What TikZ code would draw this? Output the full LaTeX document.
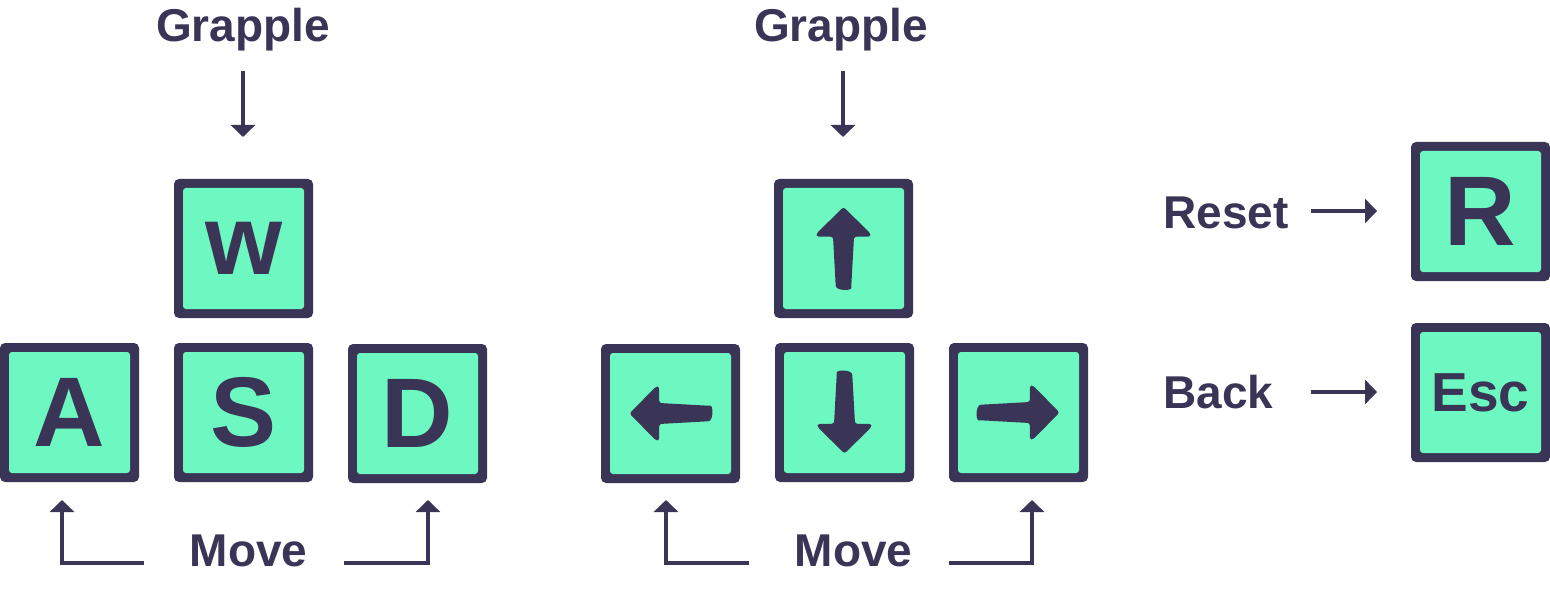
\documentclass[tikz,border=0pt]{standalone}
\usepackage{fontspec}
\setmainfont{Liberation Sans}
\usetikzlibrary{arrows.meta}
\definecolor{ink}{HTML}{3A3456}
\definecolor{mint}{HTML}{6DF8C1}
\begin{document}
\begin{tikzpicture}[x=0.5pt,y=-0.5pt,
 keybox/.style={fill=ink, rounded corners=2.5pt, minimum size=69.5pt, inner sep=0pt, text=ink,
   font=\bfseries\fontsize{49.5}{50}\selectfont,
   path picture={\fill[mint, rounded corners=1.5pt] ([shift={(4.5pt,4.5pt)}]path picture bounding box.south west) rectangle ([shift={(-4.5pt,-4.5pt)}]path picture bounding box.north east);}},
 lbl/.style={text=ink, font=\bfseries\fontsize{23}{24}\selectfont, inner sep=0pt, anchor=base},
 conn/.style={draw=ink, line width=2.2pt, -{Triangle[width=12pt,length=6pt]}},
 keyarrow/.pic={\fill[ink, rounded corners=1.2pt] (0,-41.5) -- (26.8,-15.2) -- (26.8,-11.8) -- (10.5,-11.8) -- (7.8,37) [sharp corners] .. controls (7.8,42.5) and (-7.8,42.5) .. (-7.8,37) [rounded corners=1.2pt] -- (-10.5,-11.8) -- (-26.8,-11.8) -- (-26.8,-15.2) -- cycle;}
]
\useasboundingbox (0,0) rectangle (1550,604);

% WASD keys
\node[keybox] (kw) at (243.5,248.5) {w};
\node[keybox] (ka) at (69.5,412.5) {A};
\node[keybox] (ks) at (243.5,412.5) {S};
\node[keybox] (kd) at (417.5,413.5) {D};

% arrow keys
\node[keybox] (kup) at (843.5,248.5) {};
\node[keybox] (kleft) at (670.5,413.5) {};
\node[keybox] (kdown) at (844.5,412.5) {};
\node[keybox] (kright) at (1018.5,412.5) {};
\pic at (843.5,248.5) {keyarrow};
\pic[rotate=180] at (844.5,412) {keyarrow};
\pic[rotate=90] at (671,413.5) {keyarrow};
\pic[rotate=-90] at (1018,412.5) {keyarrow};

% R and Esc
\node[keybox] (kr) at (1480.5,211.5) {R};
\node[keybox, font=\bfseries\fontsize{27.5}{28}\selectfont] (kesc) at (1480.5,392.5) {Esc};

% labels
\node[lbl] (grap1) at (243,42) {Grapple};
\node[lbl] (grap2) at (841,42) {Grapple};
\node[lbl] (move1) at (248.5,566) {Move};
\node[lbl] (move2) at (853.5,566) {Move};
\node[lbl, anchor=base west] (reset) at (1163,228) {Reset};
\node[lbl, anchor=base west] (back) at (1163,408) {Back};

% connector ends
\coordinate (g1a) at (243,71);   \coordinate (g1b) at (243,137);
\coordinate (g2a) at (843,71);   \coordinate (g2b) at (843,137);
\coordinate (m1l) at (144,563);  \coordinate (m1lt) at (62,500);
\coordinate (m1r) at (344,563);  \coordinate (m1rt) at (428,500);
\coordinate (m2l) at (749,563);  \coordinate (m2lt) at (666,500);
\coordinate (m2r) at (949,563);  \coordinate (m2rt) at (1032,500);
\coordinate (ra) at (1311,211);  \coordinate (rb) at (1377,211);
\coordinate (ba) at (1311,392);  \coordinate (bb) at (1377,392);

\draw[conn] (g1a) -- (g1b);
\draw[conn] (g2a) -- (g2b);
\draw[conn] (m1l) -| (m1lt);
\draw[conn] (m1r) -| (m1rt);
\draw[conn] (m2l) -| (m2lt);
\draw[conn] (m2r) -| (m2rt);
\draw[conn] (ra) -- (rb);
\draw[conn] (ba) -- (bb);
\end{tikzpicture}
\end{document}
